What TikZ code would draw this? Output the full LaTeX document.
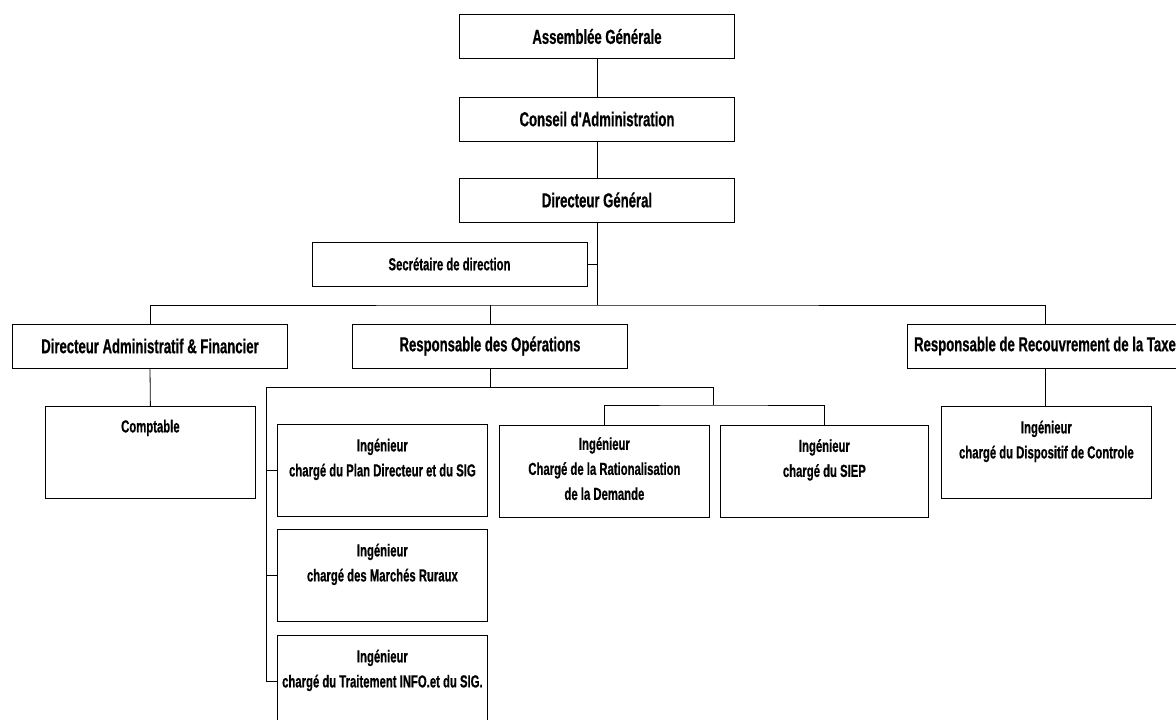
\documentclass[tikz,border=0pt]{standalone}
\usepackage{fontspec}
\newfontfamily\orgfont{Liberation Sans}[FakeStretch=0.65, FakeBold=0.6]
\newcommand\orgstrut{\rule{0pt}{14pt}}
\begin{document}
\begin{tikzpicture}[x=1pt,y=-1pt,
  line width=0.8pt,
  bigbox/.style={draw, inner sep=0pt, minimum width=275pt, minimum height=44pt,
    font=\orgfont\bfseries\fontsize{20.2}{24}\selectfont},
  secbox/.style={draw, inner sep=0pt, minimum width=275pt, minimum height=44pt,
    font=\orgfont\bfseries\fontsize{17.4}{25}\selectfont},
  ingbox/.style={draw, inner sep=0pt, minimum width=210pt, minimum height=92pt, anchor=north west},
  ingtext/.style={inner sep=0pt, anchor=north, align=center,
    font=\orgfont\bfseries\fontsize{17.4}{25}\selectfont},
]
\useasboundingbox (0,0) rectangle (1176,720);
\fill[white] (0,0) rectangle (1176,720);
\clip (0,0) rectangle (1176,720);

% top chain
\node[bigbox] (ag) at (597,36.5) {Assemblée Générale};
\node[bigbox] (ca) at (597,119) {Conseil d'Administration};
\node[bigbox] (dg) at (597,200) {Directeur Général};
\node[secbox] (sec) at (449.5,264) {Secrétaire de direction};

% level 2
\node[bigbox] (daf) at (150,346) {Directeur Administratif \& Financier};
\node[bigbox] (ops) at (490,346) {Responsable des Opérations};
\node[bigbox] (taxe) at (1045,346) {Responsable de Recouvrement de la Taxe};

% level 3 boxes
\node[ingbox] (compt) at (45,406) {};
\node[ingbox] (plan) at (277,424) {};
\node[ingbox] (march) at (277,529) {};
\node[ingbox] (trait) at (277,635) {};
\node[ingbox] (ratio) at (499,424.5) {};
\node[ingbox, minimum width=208pt] (siep) at (720,424.5) {};
\node[ingbox] (disp) at (941,406) {};

% level 3 texts
\node[ingtext] (tcompt) at ([yshift=-12pt]compt.north) {\orgstrut Comptable};
\node[ingtext] (tplan) at ([yshift=-13pt]plan.north) {\orgstrut Ingénieur\\chargé du Plan Directeur et du SIG};
\node[ingtext] (tmarch) at ([yshift=-13pt]march.north) {\orgstrut Ingénieur\\chargé des Marchés Ruraux};
\node[ingtext] (ttrait) at ([yshift=-13pt]trait.north) {\orgstrut Ingénieur\\chargé du Traitement INFO.et du SIG.};
\node[ingtext] (tratio) at ([yshift=-11pt]ratio.north) {\orgstrut Ingénieur\\Chargé de la Rationalisation\\de la Demande};
\node[ingtext] (tsiep) at ([yshift=-13pt]siep.north) {\orgstrut Ingénieur\\chargé du SIEP};
\node[ingtext] (tdisp) at ([yshift=-13pt]disp.north) {\orgstrut Ingénieur\\chargé du Dispositif de Controle};

% connectors top
\draw (ag) -- (ca);
\draw (ca) -- (dg);
\coordinate (bus) at (597,305);
\draw (dg.south) -- (bus);
\draw (sec.east) -- (sec.east -| dg.south);
\draw (daf.north) |- (bus) -| (taxe.north);
\draw (ops.north) -- (ops.north |- bus);

% level 3 connectors
\draw (daf.south) -- (compt.north);
\draw (taxe.south) -- (taxe.south |- disp.north);
\coordinate (sbl) at (266,387);
\coordinate (sbr) at (713,387);
\coordinate (sbr2) at (713,405);
\draw (ops.south) -- (ops.south |- sbl);
\draw (sbr) -- (sbl) |- (trait.west);
\draw (plan.west) -- (plan.west -| sbl);
\draw (march.west) -- (march.west -| sbl);
\draw (sbr) -- (sbr2);
\draw (ratio.north) |- (sbr2) -| (siep.north);
\end{tikzpicture}
\end{document}
